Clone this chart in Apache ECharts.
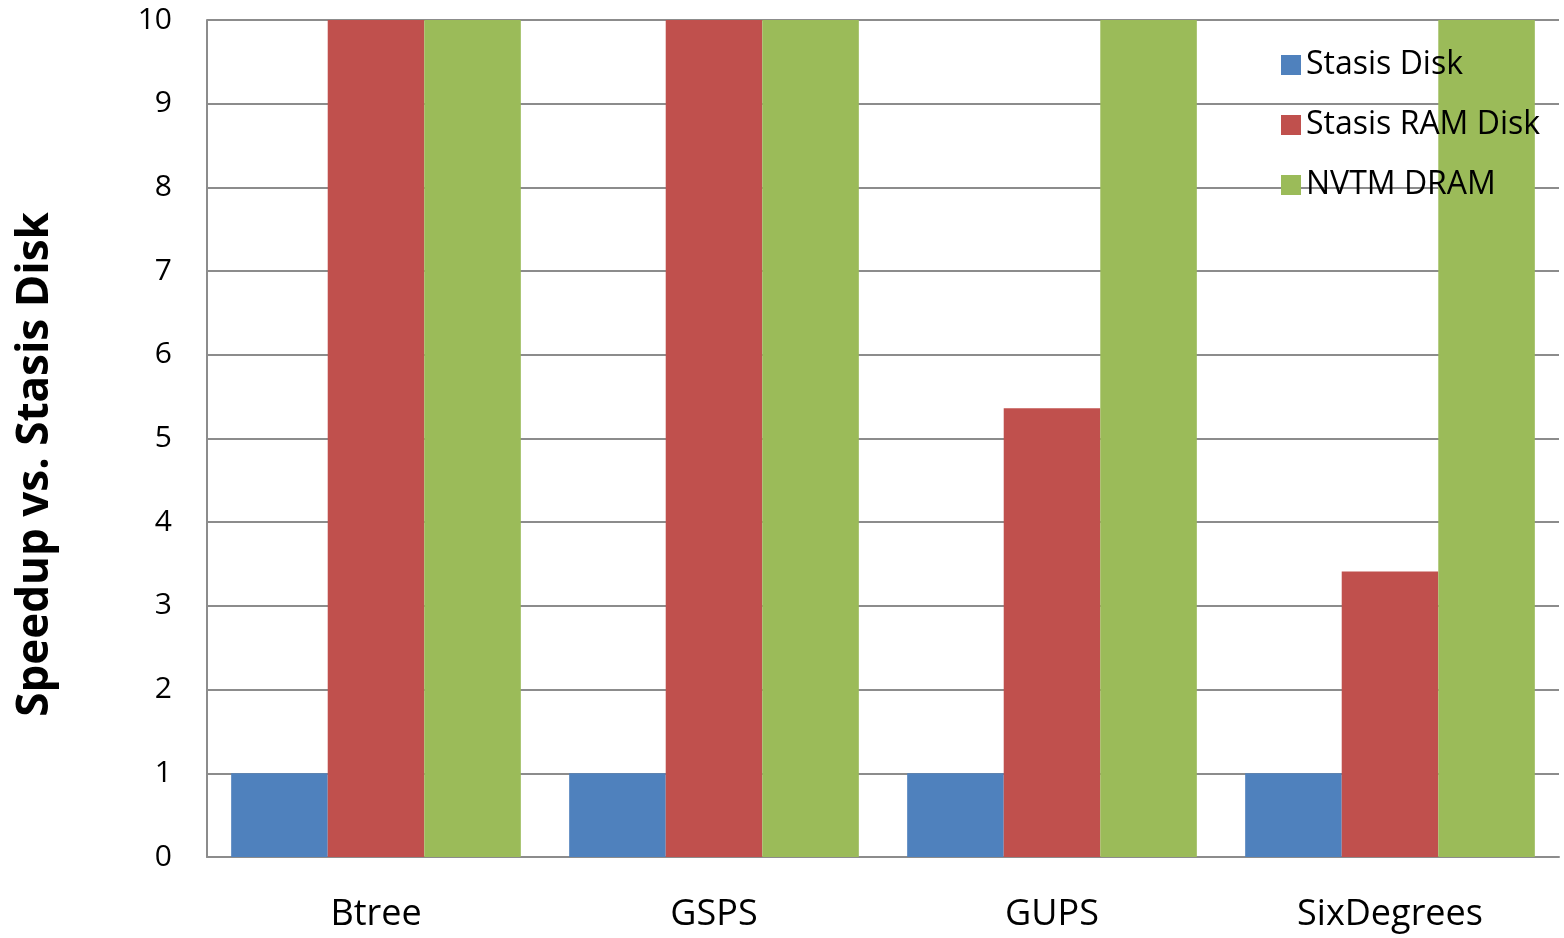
<!DOCTYPE html>
<html>
<head>
<meta charset="utf-8">
<script src="https://cdn.jsdelivr.net/npm/echarts@6/dist/echarts.min.js"></script>
<style>html,body{margin:0;padding:0;background:#fff;}#c{width:1564px;height:938px;}</style>
</head>
<body>
<div id="c"></div>
<script>
const categories = ['Btree', 'GSPS', 'GUPS', 'SixDegrees'];
const stasisDisk = [1, 1, 1, 1];
const stasisRamDisk = [10, 10, 5.36, 3.41];
const nvtmDram = [10, 10, 10, 10];
const yTicks = [0, 1, 2, 3, 4, 5, 6, 7, 8, 9, 10];

const FONT = '"Open Sans", "Noto Sans", sans-serif';
const chart = echarts.init(document.getElementById('c'), null, {renderer: 'canvas'});
chart.setOption({
  animation: false,
  backgroundColor: '#ffffff',
  textStyle: {fontFamily: FONT},
  grid: {left: 207, right: 5, top: 20, bottom: 81, containLabel: false, outerBoundsMode: 'none'},
  legend: {
    orient: 'vertical',
    left: 1276, top: 40,
    itemWidth: 20, itemHeight: 20, itemGap: 20,
    icon: 'rect',
    textStyle: {fontSize: 32, color: '#000', fontFamily: FONT, lineHeight: 40},
    data: ['Stasis Disk', 'Stasis RAM Disk', 'NVTM DRAM']
  },
  xAxis: {
    type: 'category',
    data: categories,
    axisLine: {show: true, lineStyle: {color: '#8c8c8c', width: 2}},
    axisTick: {show: false},
    axisLabel: {fontSize: 36, color: '#000', margin: 40, fontFamily: FONT}
  },
  yAxis: {
    type: 'value',
    min: 0, max: 10, interval: 1,
    name: 'Speedup vs. Stasis Disk',
    nameLocation: 'middle',
    nameGap: 150,
    nameRotate: 90,
    nameTextStyle: {fontSize: 44, fontWeight: 'bold', color: '#000', fontFamily: FONT,
      padding: [0, 52, 0, 0]},
    axisLine: {show: true, lineStyle: {color: '#8c8c8c', width: 2}},
    axisTick: {show: false},
    axisLabel: {fontSize: 30, color: '#000', margin: 35, fontFamily: FONT,
      formatter: v => yTicks.includes(v) ? String(v) : ''},
    splitLine: {show: true, lineStyle: {color: '#8c8c8c', width: 2}}
  },
  series: [
    {name: 'Stasis Disk', type: 'bar', data: stasisDisk, barGap: '0%', barCategoryGap: '14.3%',
     itemStyle: {color: '#4f81bd'}},
    {name: 'Stasis RAM Disk', type: 'bar', data: stasisRamDisk, barGap: '0%', barCategoryGap: '14.3%',
     itemStyle: {color: '#c0504d'}},
    {name: 'NVTM DRAM', type: 'bar', data: nvtmDram, barGap: '0%', barCategoryGap: '14.3%',
     itemStyle: {color: '#9bbb59'}}
  ]
});
</script>
</body>
</html>
